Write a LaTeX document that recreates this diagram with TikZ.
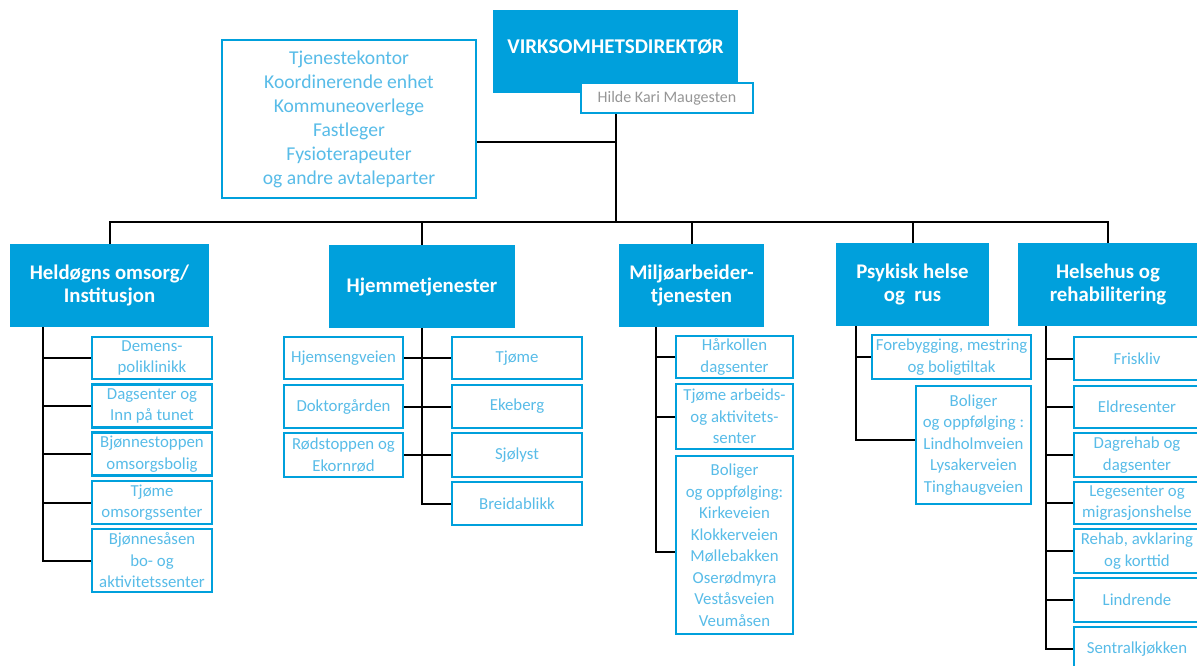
\documentclass[tikz,border=0pt]{standalone}
\usepackage{fontspec}
\setmainfont{Carlito}
\usepackage{tikz}
\definecolor{orgblue}{RGB}{0,160,220}
\definecolor{orgtext}{RGB}{88,188,232}
\definecolor{orggray}{RGB}{150,150,150}

\begin{document}
\begin{tikzpicture}[x=0.5pt,y=-0.5pt,
    wh/.style 2 args={minimum width=#1*0.5pt, minimum height=#2*0.5pt},
    mainbox/.style={fill=orgblue, text=white, align=center, inner sep=0pt,
      font=\bfseries\fontsize{10.4}{11.6}\selectfont},
    subbox/.style={draw=orgblue, line width=1.2pt, fill=white, text=orgtext,
      align=center, inner sep=0pt, font=\fontsize{8.4}{10.75}\selectfont},
    link/.style={black, line width=1pt}]
    % Page size of the reference
    \useasboundingbox (0,0) rectangle (1197,665);

    % Top level
    \node[mainbox, wh={245}{83}, text height=7.5pt, text depth=6pt,
      font=\bfseries\fontsize{10.5}{12}\selectfont] (dir) at (615.5,51.5) {VIRKSOMHETSDIREKTØR};
    \node[subbox, wh={172}{30}, text=orggray, font=\fontsize{8}{9}\selectfont] (name) at (667,98) {Hilde Kari Maugesten};
    \node[subbox, wh={254}{158}, font=\fontsize{9.8}{12}\selectfont] (staff) at (349,119)
      {Tjenestekontor\\Koordinerende enhet\\Kommuneoverlege\\Fastleger\\Fysioterapeuter\\og andre avtaleparter};

    % Units
    \node[mainbox, wh={199}{83}] (heldogn) at (109.5,285.5) {Heldøgns omsorg/\\Institusjon};
    \node[mainbox, wh={186}{83}] (hjemme) at (422,286.5) {Hjemmetjenester};
    \node[mainbox, wh={145}{83}] (miljo) at (691.5,285.5) {Miljøarbeider-\\tjenesten};
    \node[mainbox, wh={153}{83}] (psyk) at (912.5,284.5) {Psykisk helse\\og~ rus};
    \node[mainbox, wh={180}{83}] (helse) at (1108,284.5) {Helsehus og\\rehabilitering};

    % Connections from the top
    \coordinate (bus) at (616,222);
    \draw[link] (dir.south |- name.south) -- (dir.south |- bus);
    \draw[link] ([yshift=-11.5pt]staff.east) -- ([yshift=-11.5pt]staff.east -| dir.south);
    \draw[link] (heldogn.north) -- (heldogn.north |- bus) -- (helse.north |- bus) -- (helse.north);
    \foreach \unit in {hjemme,miljo,psyk}
      \draw[link] (\unit.north) -- (\unit.north |- bus);

    % Heldøgns omsorg
    \node[subbox, wh={120}{42}] (demens) at (152,358) {Demens-\\poliklinikk};
    \node[subbox, wh={120}{43}] (dagsenter) at (152,406) {Dagsenter og\\Inn på tunet};
    \node[subbox, wh={120}{43}] (bjstoppen) at (152,454) {Bjønnestoppen\\omsorgsbolig};
    \node[subbox, wh={120}{43}] (tjomeoms) at (152,502.5) {Tjøme\\omsorgssenter};
    \node[subbox, wh={120}{63}] (bjasen) at (152,560.5) {Bjønnesåsen\\bo- og\\aktivitetssenter};
    \coordinate (spineA) at (43,327);
    \draw[link] (spineA) |- (bjasen.west);
    \foreach \b in {demens,dagsenter,bjstoppen,tjomeoms}
      \draw[link] (\b.west) -- (\b.west -| spineA);

    % Hjemmetjenester
    \node[subbox, wh={119}{42}] (hjemseng) at (343.5,358) {Hjemsengveien};
    \node[subbox, wh={119}{43}] (doktor) at (343.5,406.5) {Doktorgården};
    \node[subbox, wh={119}{44}] (rodstop) at (343.5,455) {Rødstoppen og\\Ekornrød};
    \node[subbox, wh={130}{42}] (tjome) at (517,358) {Tjøme};
    \node[subbox, wh={130}{43}] (ekeberg) at (517,406.5) {Ekeberg};
    \node[subbox, wh={130}{44}] (sjolyst) at (517,455) {Sjølyst};
    \node[subbox, wh={130}{43}] (breid) at (517,503.5) {Breidablikk};
    \draw[link] (hjemme.south) |- (breid.west);
    \draw[link] (hjemseng.east) -- (tjome.west);
    \draw[link] (doktor.east) -- (ekeberg.west);
    \draw[link] (rodstop.east) -- (sjolyst.west);

    % Miljøarbeidertjenesten
    \node[subbox, wh={117}{42}] (harkollen) at (734.5,357) {Hårkollen\\dagsenter};
    \node[subbox, wh={117}{65}] (tjarb) at (734.5,416.5) {Tjøme arbeids-\\og aktivitets-\\senter};
    \node[subbox, wh={117}{178}] (boligerM) at (734.5,545)
      {Boliger\\og oppfølging:\\Kirkeveien\\Klokkerveien\\Møllebakken\\Oserødmyra\\Veståsveien\\Veumåsen};
    \coordinate (spineC) at (656,327);
    \draw[link] (spineC) |- ([yshift=-3.5pt]boligerM.west);
    \foreach \b in {harkollen,tjarb}
      \draw[link] (\b.west) -- (\b.west -| spineC);

    % Psykisk helse og rus
    \node[subbox, wh={159}{44}] (forebygg) at (951.5,357) {Forebygging, mestring\\og boligtiltak};
    \node[subbox, wh={115}{118}] (boligerP) at (973.5,445)
      {Boliger\\og oppfølging :\\Lindholmveien\\Lysakerveien\\Tinghaugveien};
    \coordinate (spineD) at (856,326);
    \draw[link] (spineD) |- ([yshift=2.5pt]boligerP.west);
    \draw[link] (forebygg.west) -- (forebygg.west -| spineD);

    % Helsehus og rehabilitering
    \node[subbox, wh={126}{43}] (friskliv) at (1137,358.5) {Friskliv};
    \node[subbox, wh={126}{42}] (eldre) at (1137,407) {Eldresenter};
    \node[subbox, wh={126}{44}] (dagrehab) at (1137,455) {Dagrehab og\\dagsenter};
    \node[subbox, wh={126}{42}] (legesenter) at (1137,503) {Legesenter og\\migrasjonshelse};
    \node[subbox, wh={126}{44}] (rehab) at (1137,551) {Rehab, avklaring\\og korttid};
    \node[subbox, wh={126}{44}] (lindrende) at (1137,600) {Lindrende};
    \node[subbox, wh={126}{44}] (sentral) at (1137,649) {Sentralkjøkken};
    \coordinate (spineE) at (1046,326);
    \draw[link] (spineE) |- (sentral.west);
    \foreach \b in {friskliv,eldre,dagrehab,legesenter,rehab,lindrende}
      \draw[link] (\b.west) -- (\b.west -| spineE);
\end{tikzpicture}
\end{document}
